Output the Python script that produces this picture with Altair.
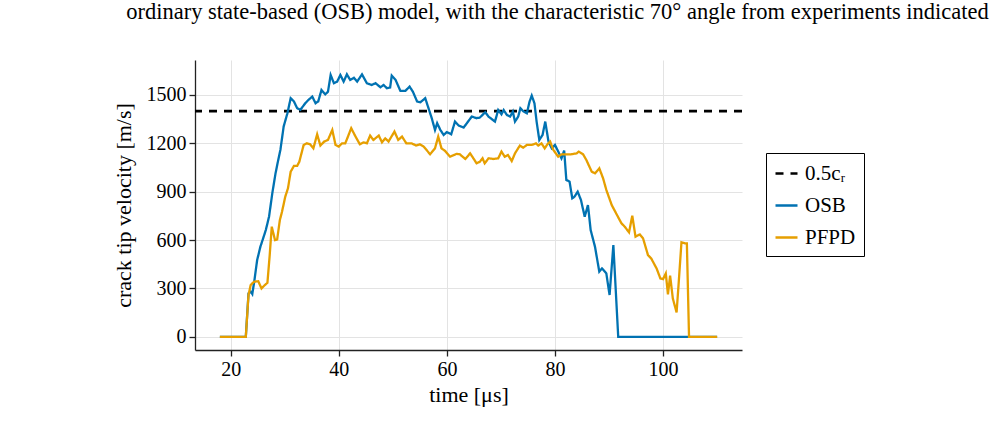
import altair as alt
import pandas as pd

# OSB crack tip velocity
osb_t = [18, 22.8, 23.3, 23.7, 24.0, 24.4, 24.9, 25.5, 26.0, 26.5, 27.1, 27.7, 28.3, 28.8, 29.2, 29.8,
         30.5, 31.1, 31.7, 32.3, 32.9, 33.8, 34.4, 35.1, 35.7, 36.2, 36.8, 37.5, 38.0, 38.5, 39.1, 39.7,
         40.3, 40.9, 41.5, 42.1, 42.8, 43.4, 44.3, 45.2, 46.1, 46.8, 47.7, 48.3, 48.9, 49.5, 49.8, 50.5,
         51.4, 52.3, 53.1, 53.7, 54.5, 55.1, 56.0, 56.6, 57.2, 57.8, 58.2, 58.8, 59.4, 60.0, 60.8, 61.5,
         62.2, 63.1, 63.7, 64.6, 65.5, 66.1, 67.1, 67.7, 68.9, 69.5, 70.1, 70.5, 71.1, 71.7, 72.2, 72.6,
         73.2, 73.6, 74.1, 74.8, 75.3, 75.7, 76.2, 76.6, 77.1, 77.7, 78.2, 78.8, 79.4, 80.0, 80.6, 81.2,
         81.7, 82.1, 82.7, 83.2, 83.6, 84.2, 84.8, 85.5, 86.1, 86.6, 87.4, 88.2, 88.7, 89.5, 90.1, 90.8,
         91.7, 110]
osb_v = [0, 0, 269, 280, 265, 352, 476, 559, 610, 662, 745, 890, 1014, 1097, 1159, 1304,
         1387, 1480, 1460, 1418, 1408, 1449, 1470, 1490, 1449, 1460, 1531, 1504, 1520, 1624, 1573, 1583,
         1624, 1583, 1628, 1594, 1607, 1583, 1628, 1573, 1562, 1573, 1548, 1562, 1542, 1546, 1620, 1594,
         1525, 1525, 1552, 1521, 1459, 1455, 1480, 1418, 1356, 1283, 1325, 1283, 1252, 1270, 1256, 1335,
         1310, 1298, 1325, 1366, 1356, 1360, 1393, 1366, 1335, 1407, 1380, 1407, 1376, 1366, 1397, 1335,
         1366, 1418, 1400, 1387, 1459, 1496, 1449, 1335, 1221, 1252, 1335, 1211, 1169, 1190, 1149, 1107,
         1155, 973, 962, 859, 869, 900, 849, 745, 817, 662, 559, 404, 424, 393, 259, 569,
         0, 0]

# PFPD crack tip velocity
pfpd_t = [18, 22.8, 23.3, 23.7, 24.3, 25.1, 25.7, 26.3, 26.8, 27.2, 27.6, 28.2, 28.6, 29.1, 29.5, 30.1,
          30.6, 31.1, 31.7, 32.3, 32.7, 33.5, 34.1, 34.7, 35.3, 36.0, 36.6, 37.3, 38.0, 38.8, 39.4, 40.0,
          40.6, 41.2, 41.7, 42.3, 43.1, 43.9, 44.6, 45.2, 45.8, 46.4, 47.4, 48.0, 48.6, 49.2, 50.3, 51.0,
          51.7, 52.5, 53.5, 54.3, 55.0, 55.7, 56.9, 57.8, 58.4, 59.0, 59.7, 60.6, 61.8, 62.4, 63.4, 64.3,
          65.5, 66.1, 66.6, 67.0, 67.7, 68.6, 69.5, 70.1, 70.7, 71.3, 72.0, 72.6, 73.5, 74.1, 74.8, 75.7,
          76.5, 76.9, 77.5, 78.1, 78.6, 79.1, 79.7, 80.6, 81.2, 82.1, 83.0, 84.0, 84.4, 85.2, 85.8, 86.8,
          87.4, 88.2, 88.9, 89.5, 90.5, 91.4, 92.3, 92.9, 93.7, 94.3, 94.9, 95.7, 96.3, 97.2, 97.8, 98.8,
          99.5, 100.0, 100.5, 100.9, 101.3, 101.8, 102.5, 102.9, 103.4, 104.0, 104.4, 104.8, 110]
pfpd_v = [0, 0, 259, 321, 341, 345, 300, 320, 335, 497, 683, 600, 604, 724, 776, 869,
          921, 1024, 1060, 1060, 1086, 1190, 1200, 1194, 1169, 1256, 1186, 1211, 1221, 1283, 1190, 1180,
          1200, 1200, 1242, 1294, 1242, 1194, 1206, 1200, 1248, 1221, 1248, 1206, 1231, 1211, 1273, 1221,
          1242, 1200, 1200, 1186, 1194, 1180, 1132, 1169, 1242, 1169, 1152, 1117, 1135, 1132, 1103, 1138,
          1076, 1086, 1107, 1076, 1107, 1103, 1107, 1149, 1117, 1128, 1090, 1138, 1186, 1173, 1190, 1190,
          1200, 1186, 1200, 1169, 1194, 1211, 1159, 1117, 1132, 1132, 1132, 1138, 1149, 1132, 1097, 1024,
          1014, 1045, 983, 911, 817, 760, 704, 683, 648, 751, 621, 635, 610, 507, 486, 424,
          362, 358, 393, 263, 379, 238, 151, 341, 586, 580, 580, 0, 0]

ref_label = "0.5cᵣ"
ref_value = [1400]
series_names = [ref_label, "OSB", "PFPD"]
series_colors = ["#000000", "#0072B2", "#E69F00"]
series_dash = [[8, 7], [1, 0], [1, 0]]

x_ticks = [20, 40, 60, 80, 100]
y_ticks = [0, 300, 600, 900, 1200, 1500]

df = pd.concat([
    pd.DataFrame({"t": osb_t, "v": osb_v, "series": "OSB"}),
    pd.DataFrame({"t": pfpd_t, "v": pfpd_v, "series": "PFPD"}),
])
ref_df = pd.DataFrame({"v": ref_value, "series": [ref_label]})

FONT = "Liberation Serif"

color = alt.Color("series:N", scale=alt.Scale(domain=series_names, range=series_colors),
                  legend=alt.Legend(title=None, orient="none", legendX=571, legendY=93))
dash = alt.StrokeDash("series:N", scale=alt.Scale(domain=series_names, range=series_dash),
                      legend=alt.Legend(title=None, orient="none", legendX=571, legendY=93))

yscale = alt.Scale(domain=[-82, 1717], nice=False, zero=False)
xs = alt.X("t:Q", title="time [μs]",
           scale=alt.Scale(domain=[13.4, 114.6], nice=False, zero=False),
           axis=alt.Axis(values=x_ticks, format="d"))
ys = alt.Y("v:Q", title="crack tip velocity [m/s]", scale=yscale,
           axis=alt.Axis(values=y_ticks, format="d"))

rule = alt.Chart(ref_df).mark_rule(strokeWidth=2.6).encode(
    y=alt.Y("v:Q", scale=yscale), color=color, strokeDash=dash)

osb = alt.Chart(df[df.series == "OSB"]).mark_line(strokeWidth=2.3, clip=True).encode(
    x=xs, y=ys, color=color, strokeDash=dash)
pfpd = alt.Chart(df[df.series == "PFPD"]).mark_line(strokeWidth=2.3, clip=True).encode(
    x=xs, y=ys, color=color, strokeDash=dash)

chart = alt.layer(rule, osb, pfpd).properties(
    width=547, height=290,
    autosize=alt.AutoSizeParams(type="none"),
    padding={"left": 195, "top": 60, "right": 265, "bottom": 85},
    title=alt.TitleParams(
        text="ordinary state-based (OSB) model, with the characteristic 70° angle from experiments indicated",
        anchor="middle", dx=89, offset=19, baseline="alphabetic",
        font=FONT, fontSize=22.5, fontWeight="normal", color="black"),
).configure_view(stroke=None).configure_axis(
    labelFont=FONT, labelFontSize=20, labelColor="black",
    titleFont=FONT, titleFontSize=22, titleColor="black", titleFontWeight="normal",
    domainColor="#222222", domainWidth=1.3, tickColor="#222222", tickWidth=1.3, tickSize=6,
    gridColor="#e3e3e3", gridWidth=1, labelPadding=3,
).configure_axisY(titlePadding=11).configure_axisX(titlePadding=5).configure_legend(
    labelFont=FONT, labelFontSize=21, labelColor="black",
    strokeColor="black", strokeWidth=1, fillColor="white", padding=8, cornerRadius=0,
    symbolType="stroke", symbolSize=484, symbolStrokeWidth=2.5, rowPadding=9, labelOffset=6,
)

chart.save("out.html", embed_options={"renderer": "svg", "actions": False})
